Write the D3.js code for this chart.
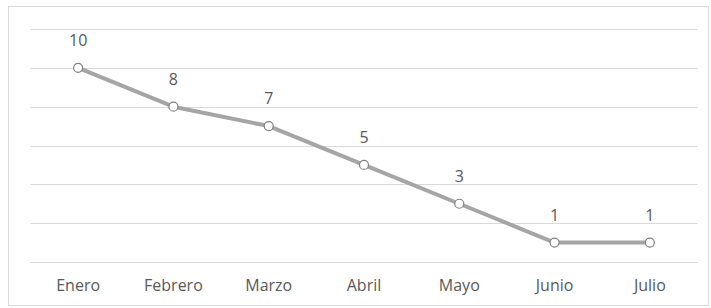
<!DOCTYPE html>
<html>
<head>
<meta charset="utf-8">
<script src="https://cdn.jsdelivr.net/npm/d3@7"></script>
<style>
  body { margin: 0; background: #fff; }
  text { font-family: "Open Sans", "Noto Sans", sans-serif; fill: #595959; }
</style>
</head>
<body>
<script>
// Data
var months = ["Enero", "Febrero", "Marzo", "Abril", "Mayo", "Junio", "Julio"];
var values = [10, 8, 7, 5, 3, 1, 1];
var yTicks = [0, 2, 4, 6, 8, 10, 12];

var W = 711, H = 308;
var svg = d3.select("body").append("svg").attr("width", W).attr("height", H);

// Chart border
svg.append("rect")
  .attr("x", 8.5).attr("y", 6.5).attr("width", 700).attr("height", 299)
  .attr("fill", "#fff").attr("stroke", "#d9d9d9");

var x = d3.scaleBand().domain(months).range([30.5, 697.5]);
var y = d3.scaleLinear().domain([0, 12]).range([262, 29]);

// Gridlines
svg.append("g").selectAll("line").data(yTicks).join("line")
  .attr("x1", 30.5).attr("x2", 697.5)
  .attr("y1", function(d){ return Math.round(y(d)) + 0.5; })
  .attr("y2", function(d){ return Math.round(y(d)) + 0.5; })
  .attr("stroke", "#d9d9d9").attr("stroke-width", 1);

// X axis labels
var xAxis = svg.append("g").attr("transform", "translate(0,262)")
  .call(d3.axisBottom(x).tickSize(0));
xAxis.select(".domain").remove();
xAxis.selectAll("text")
  .attr("y", 29).attr("dy", null)
  .attr("font-size", 16).attr("fill", "#595959")
  .style("font-family", "'Open Sans', 'Noto Sans', sans-serif");

var cx = function(d, i){ return x(months[i]) + x.bandwidth() / 2; };

// Line
var line = d3.line().x(cx).y(function(d){ return y(d); });
svg.append("path").datum(values)
  .attr("d", line).attr("fill", "none")
  .attr("stroke", "#a5a5a5").attr("stroke-width", 4).attr("stroke-linejoin", "round");

// Markers
svg.append("g").selectAll("circle").data(values).join("circle")
  .attr("cx", cx).attr("cy", function(d){ return y(d); })
  .attr("r", 4.5).attr("fill", "#fff").attr("stroke", "#808080").attr("stroke-width", 1.2);

// Data labels
svg.append("g").selectAll("text").data(values).join("text")
  .attr("x", cx).attr("y", function(d){ return y(d) - 22; })
  .attr("text-anchor", "middle").attr("font-size", 16)
  .text(function(d){ return d; });
</script>
</body>
</html>
